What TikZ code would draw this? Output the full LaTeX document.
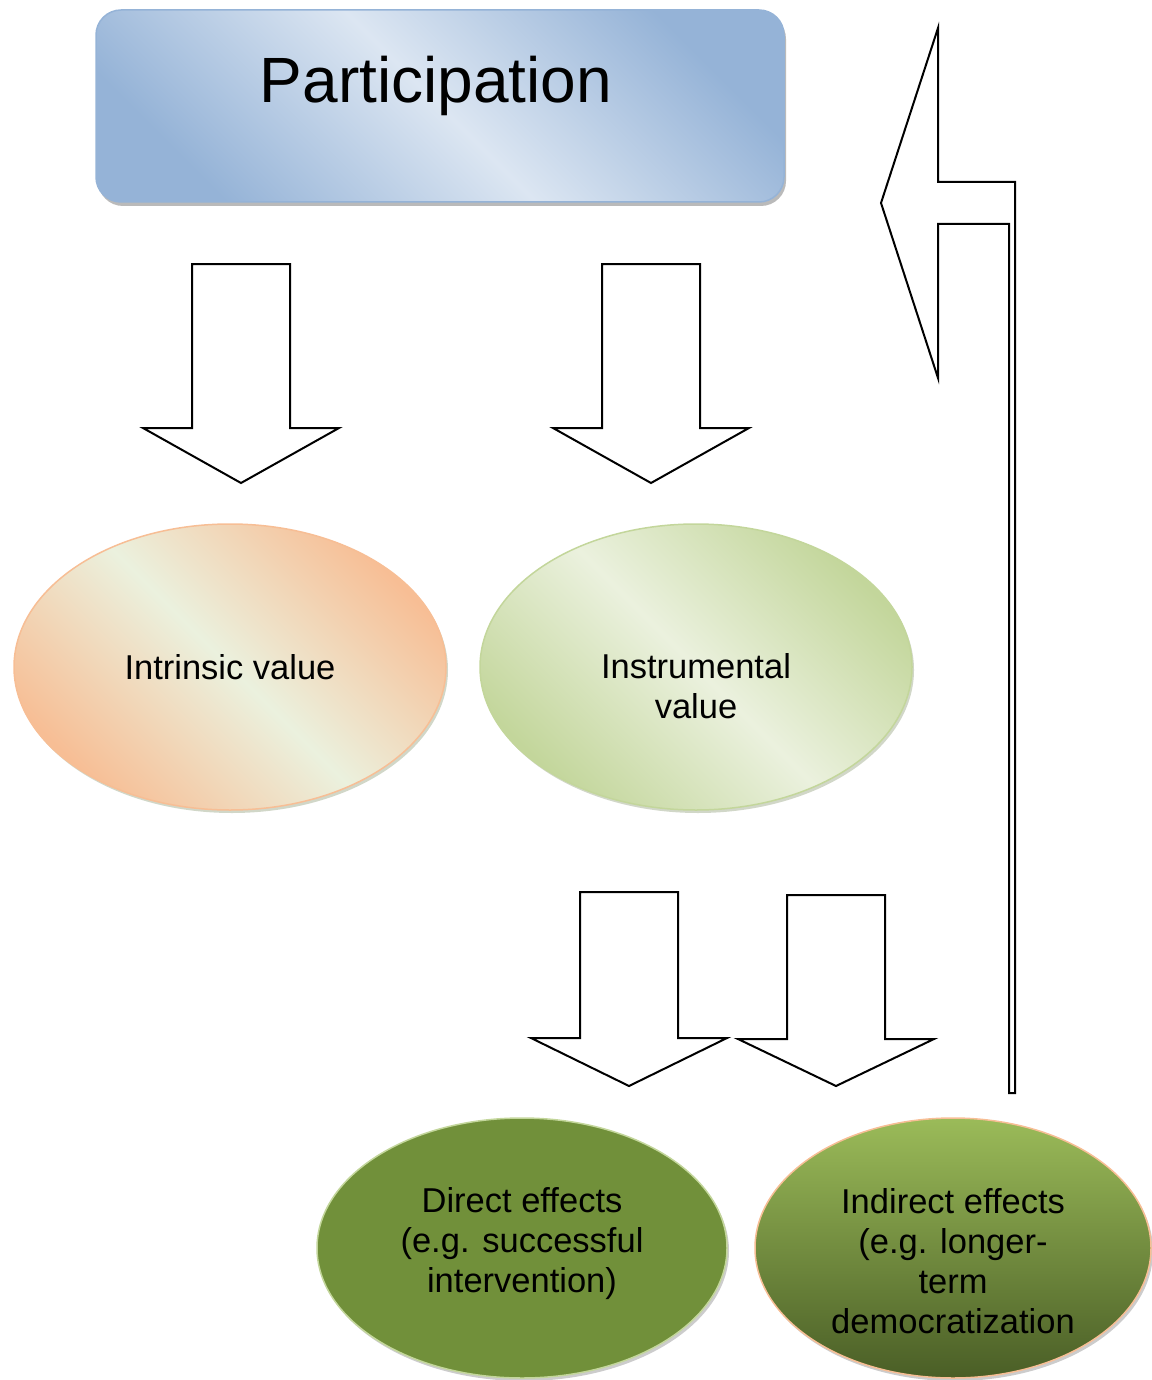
\documentclass[tikz,border=0pt]{standalone}
\usepackage{fontspec}
\setmainfont{Liberation Sans}
\usetikzlibrary{shapes,arrows,shadows}
\definecolor{boxlight}{HTML}{DCE6F2}
\definecolor{boxdark}{HTML}{95B3D7}
\definecolor{orangedark}{HTML}{F7BE95}
\definecolor{greenlight}{HTML}{EBF1DE}
\definecolor{greenmid}{HTML}{C3D69B}
\definecolor{olive}{HTML}{71903A}
\definecolor{olivetop}{HTML}{9BBB59}
\definecolor{olivebottom}{HTML}{4A5E26}
\tikzstyle{valuebox} = [ellipse,inner sep=0pt,minimum width=432pt,minimum height=286pt,line width=1.5pt,align=center,font=\fontsize{34.5}{40}\selectfont]
\tikzstyle{valuetext} = [align=center,font=\fontsize{34.5}{40}\selectfont]
\tikzstyle{blockarrow} = [draw=black,line width=2pt,fill=white,line join=miter]
\newcommand{\downblock}[4]{%
 \draw [blockarrow] (#1-49,#2) -- (#1+49,#2) -- (#1+49,#3) -- (#1+98,#3) -- (#1,#4) -- (#1-98,#3) -- (#1-49,#3) -- cycle;}

\begin{document}
\begin{tikzpicture}[x=1pt,y=-1pt]
 	\useasboundingbox (0,0) rectangle (1151,1380);

 	%top box
 	\node (part) [rectangle,rounded corners=25pt,minimum width=688pt,minimum height=192pt,
 		draw=boxdark,line width=1.5pt,top color=boxdark,bottom color=boxdark,middle color=boxlight,shading angle=-45,
 		drop shadow={shadow xshift=2pt,shadow yshift=-4pt,fill=black!45,opacity=.6}] at (440,106) {};
 	\node (parttext) [font=\fontsize{64}{78}\selectfont] at (436,86) {Participation};

 	%arrows to the values
 	\downblock{241}{264}{428}{483}
 	\downblock{651}{264}{428}{483}

 	%values
 	\node (intrinsic) [valuebox,draw=orangedark,top color=orangedark,bottom color=orangedark,middle color=greenlight,shading angle=-45,
 		drop shadow={shadow xshift=2pt,shadow yshift=-3pt,fill=olivebottom!50,opacity=.5}] at (230,667) {Intrinsic value};
 	\node (instrumental) [valuebox,draw=greenmid,top color=greenmid,bottom color=greenmid,middle color=greenlight,shading angle=-45,
 		drop shadow={shadow xshift=2pt,shadow yshift=-3pt,fill=olivebottom!50,opacity=.5},
 		label={[valuetext,yshift=-19pt]center:Instrumental\\value}] at (696,667) {};

 	%arrows to the effects
 	\downblock{629}{892}{1038}{1086}
 	\downblock{836}{895}{1039}{1086}

 	%effects
 	\node (direct) [valuebox,minimum width=410pt,minimum height=260pt,draw=greenmid,fill=olive,
 		drop shadow={shadow xshift=2pt,shadow yshift=-3pt,fill=black!40,opacity=.5},
 		label={[valuetext,yshift=4pt]center:Direct effects\\(e.g. successful\\intervention)}] at (522,1248) {};
 	\node (indirect) [valuebox,minimum width=396pt,minimum height=260pt,draw=orangedark,top color=olivetop,bottom color=olivebottom,
 		drop shadow={shadow xshift=2pt,shadow yshift=-3pt,fill=black!40,opacity=.5},
 		label={[valuetext,yshift=-13pt]center:Indirect effects\\(e.g. longer-\\term\\democratization}] at (953,1248) {};

 	%feedback arrow
 	\draw [blockarrow] (881,203) -- (938,28) -- (938,182) -- (1015,182) -- (1015,1093) -- (1009,1093)
 		-- (1009,224) -- (938,224) -- (938,378) -- cycle;
\end{tikzpicture}
\end{document}
